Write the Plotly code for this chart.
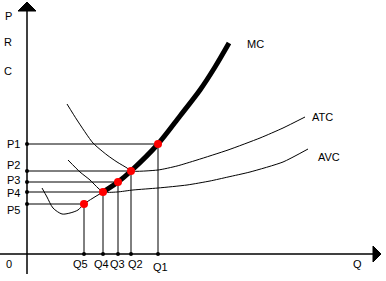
import plotly.graph_objects as go

# Equilibrium quantities / prices (Q5..Q1, P5..P1)
q_labels = ["Q5", "Q4", "Q3", "Q2", "Q1"]
p_labels = ["P5", "P4", "P3", "P2", "P1"]
q_vals = [57, 76, 91, 104, 131]
p_vals = [50, 62, 72, 83, 110]

# Marginal cost: thin lower part and thick upper part
mc_thin_x = [15, 20, 26, 35, 43, 51, 57, 76]
mc_thin_y = [66, 57, 46, 40, 41, 44, 50, 62]
mc_thick_x = [76, 91, 104, 131, 153, 173, 188, 202]
mc_thick_y = [62, 72, 83, 110, 138, 164, 187, 211]

# Average total cost
atc_x = [40, 50, 66, 80, 90, 100, 104, 131, 150, 170, 201, 233, 256, 278]
atc_y = [150, 134, 111, 99, 92, 86, 83, 84, 88, 94, 104, 116, 126, 137]

# Average variable cost
avc_x = [41, 53, 63, 71, 76, 90, 106, 131, 160, 183, 201, 223, 256, 281]
avc_y = [94, 82, 74, 66, 62, 62, 64, 66, 69, 73, 77, 82, 92, 105]

FONT = dict(family="Liberation Sans, Arial, sans-serif", size=11, color="black")

fig = go.Figure()

# Axes
fig.add_trace(go.Scatter(x=[0, 0], y=[-20, 245], mode="lines",
                         line=dict(color="black", width=1.5), hoverinfo="skip"))
fig.add_trace(go.Scatter(x=[-27, 348], y=[0, 0], mode="lines",
                         line=dict(color="black", width=1.5), hoverinfo="skip"))
# Arrow heads
fig.add_trace(go.Scatter(x=[-9, 9, 0, -9], y=[243, 243, 252, 243], mode="lines",
                         fill="toself", fillcolor="black",
                         line=dict(color="black", width=1), hoverinfo="skip"))
fig.add_trace(go.Scatter(x=[346, 346, 354, 346], y=[8, -8, 0, 8], mode="lines",
                         fill="toself", fillcolor="black",
                         line=dict(color="black", width=1), hoverinfo="skip"))

# Drop lines
for q, p in zip(q_vals, p_vals):
    fig.add_trace(go.Scatter(x=[0, q, q], y=[p, p, 0], mode="lines",
                             line=dict(color="black", width=1), hoverinfo="skip"))
# Small dots on axes
fig.add_trace(go.Scatter(x=[0] * len(p_vals), y=p_vals, mode="markers",
                         marker=dict(color="black", size=4), hoverinfo="skip"))
fig.add_trace(go.Scatter(x=q_vals, y=[0] * len(q_vals), mode="markers",
                         marker=dict(color="black", size=4), hoverinfo="skip"))

# Curves
fig.add_trace(go.Scatter(x=atc_x, y=atc_y, mode="lines",
                         line=dict(color="black", width=1, shape="spline", smoothing=0.6),
                         hoverinfo="skip"))
fig.add_trace(go.Scatter(x=avc_x, y=avc_y, mode="lines",
                         line=dict(color="black", width=1, shape="spline", smoothing=0.6),
                         hoverinfo="skip"))
fig.add_trace(go.Scatter(x=mc_thin_x, y=mc_thin_y, mode="lines",
                         line=dict(color="black", width=1, shape="spline", smoothing=0.8),
                         hoverinfo="skip"))
fig.add_trace(go.Scatter(x=mc_thick_x, y=mc_thick_y, mode="lines",
                         line=dict(color="black", width=5, shape="spline", smoothing=0.8),
                         hoverinfo="skip"))

# Red intersection points
fig.add_trace(go.Scatter(x=q_vals, y=p_vals, mode="markers",
                         marker=dict(color="#ff0000", size=8), hoverinfo="skip"))

annotations = []
# Price labels
p_label_y = [44, 61, 74, 89, 110]
for lab, yy in zip(p_labels, p_label_y):
    annotations.append(dict(x=-14, y=yy, text=lab))
# Quantity labels
q_label_x = [53, 74, 90, 108, 133]
q_label_y = [-10, -10, -10, -10, -13]
for lab, xx, yy in zip(q_labels, q_label_x, q_label_y):
    annotations.append(dict(x=xx, y=yy, text=lab))
# Axis and curve labels
annotations += [
    dict(x=-19, y=238, text="P"),
    dict(x=-19, y=212, text="R"),
    dict(x=-19, y=183, text="C"),
    dict(x=-18, y=-10, text="0"),
    dict(x=330, y=-10, text="Q"),
    dict(x=228, y=210, text="MC"),
    dict(x=295, y=137, text="ATC"),
    dict(x=302, y=97, text="AVC"),
]
for a in annotations:
    a.update(showarrow=False, font=FONT, xanchor="center", yanchor="middle")

fig.update_layout(
    width=386, height=281,
    margin=dict(l=0, r=0, t=0, b=0),
    paper_bgcolor="white", plot_bgcolor="white",
    showlegend=False,
    xaxis=dict(range=[-27, 359], visible=False, fixedrange=True),
    yaxis=dict(range=[-27, 254], visible=False, fixedrange=True),
    annotations=annotations,
)

fig.write_html("out.html", config={"displayModeBar": False})
